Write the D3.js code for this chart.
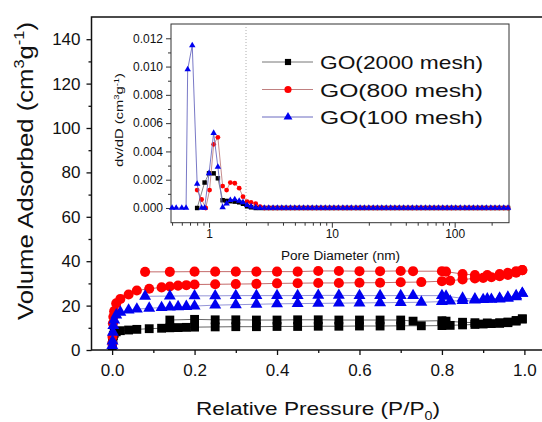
<!DOCTYPE html>
<html>
<head>
<meta charset="utf-8">
<script src="https://cdn.jsdelivr.net/npm/d3@7"></script>
<style>
  body { margin: 0; background: #fff; }
  text { font-family: "Liberation Sans", Arial, sans-serif; fill: #111; }
</style>
</head>
<body>
<svg id="chart" width="542" height="422"></svg>
<script>
// ---- isotherm data (main plot) ----
var seriesNames = ["GO(2000 mesh)", "GO(800 mesh)", "GO(100 mesh)"];

var adsP = [0.0005, 0.001, 0.002, 0.003, 0.005, 0.01, 0.02, 0.04, 0.06, 0.09, 0.12, 0.14, 0.16, 0.18, 0.2,
  0.25, 0.3, 0.35, 0.4, 0.45, 0.5, 0.55, 0.6, 0.65, 0.7, 0.75, 0.8, 0.82, 0.85, 0.88, 0.9, 0.92, 0.94, 0.96, 0.98, 0.995];
var blackAds = [2, 3.5, 5, 6.5, 7.5, 8.2, 8.7, 9, 9.3, 9.6, 9.8, 10, 10.1, 10.2, 10.3,
  10.4, 10.5, 10.5, 10.6, 10.6, 10.7, 10.7, 10.8, 10.8, 10.9, 10.9, 11, 11.1, 11.3, 11.5, 11.7, 11.9, 12, 12.3, 13, 14];
var redAds = [3, 6, 12, 15, 17.5, 21, 23, 25, 26.8, 27.6, 28.2, 28.6, 29, 29.2, 29.5,
  29.6, 29.7, 29.8, 30, 30.1, 30.2, 30.2, 30.3, 30.3, 30.5, 30.6, 31, 31.2, 31.8, 32.2, 32.5, 32.8, 33.2, 33.8, 34.8, 36];
var blueAds = [2, 4, 8, 11, 13.5, 15.8, 17, 18, 18.4, 18.8, 19.1, 19.3, 19.5, 19.6, 19.8,
  20.2, 20.4, 20.6, 20.8, 20.9, 21, 21.1, 21.2, 21.3, 21.4, 21.5, 21.8, 22, 22.3, 22.5, 22.7, 22.8, 23, 23.3, 24, 25.5];

var desP = [0.995, 0.98, 0.96, 0.94, 0.91, 0.88, 0.85, 0.81, 0.80, 0.73, 0.70, 0.65, 0.60, 0.55, 0.50,
  0.45, 0.40, 0.35, 0.30, 0.25, 0.20, 0.14, 0.08];
var blackDes = [14, 13.3, 12.6, 12.3, 12.2, 12.3, 12.5, 13, 13.2, 13, 13.5, 13.5, 13.5, 13.5, 13.6,
  13.6, 13.5, 13.5, 13.6, 13.6, 13.8, 13.5];
var redDes = [36, 35.5, 34.8, 34.2, 33.8, 33.8, 34.2, 35.3, 35.5, 35.5, 35.6, 35.5, 35.5, 35.6, 35.6,
  35.3, 35.3, 35.3, 35.3, 35.3, 35.3, 35.2, 35.2];
var blueDes = [25.5, 24.5, 23.8, 23.3, 23, 23, 23.3, 24.2, 24.5, 24.5, 24.5, 24.5, 24.5, 24.6, 24.6,
  24.5, 24.5, 24.5, 24.5, 24.4, 24.4, 24.3, 24.2];

// ---- pore size distribution (inset) ----
var pdBlackD = [0.8, 0.92, 1.0, 1.09, 1.18, 1.29, 1.39, 1.49, 1.62, 1.76, 1.89, 2.04, 2.2, 2.4];
var pdBlackV = [0, 0.0018, 0.00245, 0.00245, 0.0021, 0.00055, 0.0005, 0.00048, 0.00045, 0.0004, 0.0003, 0.00012, 0.00005, 0];
var pdRedD = [0.8, 0.87, 0.94, 1.01, 1.09, 1.18, 1.29, 1.39, 1.49, 1.62, 1.76, 1.89, 2.04, 2.2, 2.4, 2.6];
var pdRedV = [0.00127, 0.0006, 0, 0.00127, 0.0045, 0.005, 0.00155, 0.00127, 0.0018, 0.00175, 0.0014, 0.0008, 0.00045, 0.0004, 0.0003, 0.0001];
var pdBlueD = [0.5, 0.54, 0.6, 0.65, 0.67, 0.73, 0.8, 0.87, 0.92, 1.0, 1.09, 1.18, 1.29, 1.39, 1.49, 1.62, 1.76, 1.89, 2.04, 2.2, 2.4];
var pdBlueV = [0, 0, 0, 0, 0.0098, 0.0115, 0.0017, 0, 0, 0.00245, 0.0053, 0.0029, 0.00005, 0.0003, 0.00055, 0.0006, 0.0005, 0.0004, 0.0002, 0.0001, 0.00003];
// flat tail, same for all three samples
var tailD = [2.6, 2.82, 3.06, 3.32, 3.6, 3.91, 4.24, 4.6, 4.99, 5.42, 5.88, 6.38, 6.92, 7.51, 8.15, 8.84, 9.59,
  10.4, 11.3, 12.3, 13.3, 14.4, 15.7, 17.0, 18.4, 20.0, 21.7, 23.5, 25.5, 27.7, 30.1, 32.6, 35.4, 38.4, 41.7,
  45.2, 49.1, 53.2, 57.8, 62.7, 68.0, 73.8, 80.0, 86.8, 94.2, 102, 111, 121, 131, 142, 154, 167, 181, 197,
  213, 231, 251, 272];
var tailV = [0, 0, 0, 0, 0, 0, 0, 0, 0, 0, 0, 0, 0, 0, 0, 0, 0, 0, 0, 0, 0, 0, 0, 0, 0, 0, 0, 0, 0,
  0, 0, 0, 0, 0, 0, 0, 0, 0, 0, 0, 0, 0, 0, 0, 0, 0, 0, 0, 0, 0, 0, 0, 0, 0, 0, 0, 0, 0];

var yTicks = [0, 20, 40, 60, 80, 100, 120, 140];
var xTicks = [0, 0.2, 0.4, 0.6, 0.8, 1.0];
var iyTicks = [0, 0.002, 0.004, 0.006, 0.008, 0.010, 0.012];
var ixTicks = [1, 10, 100];

function zip(xs, ys) {
  var n = Math.min(xs.length, ys.length), out = [];
  for (var i = 0; i < n; i++) out.push([xs[i], ys[i]]);
  return out;
}

var styles = [
  { fill: "#000", line: "#333", lineIn: "#777", sym: d3.symbolSquare, size: 78, sizeIn: 20, sizeLeg: 38 },
  { fill: "#f00", line: "#b03a3a", lineIn: "#c08080", sym: d3.symbolCircle, size: 80, sizeIn: 18, sizeLeg: 40 },
  { fill: "#0000f0", line: "#7070c8", lineIn: "#6a6ac0", sym: d3.symbolTriangle, size: 62, sizeIn: 18, sizeLeg: 34 }
];

var main = [
  { ads: zip(adsP, blackAds), des: zip(desP, blackDes) },
  { ads: zip(adsP, redAds), des: zip(desP, redDes) },
  { ads: zip(adsP, blueAds), des: zip(desP, blueDes) }
];
var inset = [
  zip(pdBlackD, pdBlackV).concat(zip(tailD, tailV)),
  zip(pdRedD, pdRedV).concat(zip(tailD.slice(1), tailV)),
  zip(pdBlueD, pdBlueV).concat(zip(tailD, tailV))
];

var svg = d3.select("#chart");

// ---- main scales ----
var x = d3.scaleLinear().domain([-0.05, 1.05]).range([91.5, 545]),
  y = d3.scaleLinear().domain([0, 150]).range([350, 17]);

var g = svg.append("g");

g.append("rect")
  .attr("x", x(-0.05)).attr("y", y(150))
  .attr("width", x(1.05) - x(-0.05)).attr("height", y(0) - y(150))
  .attr("fill", "none").attr("stroke", "#111").attr("stroke-width", 1.5);

var xAxis = g.append("g")
  .attr("transform", "translate(0," + y(0) + ")")
  .call(d3.axisBottom(x).tickValues(xTicks).tickFormat(d3.format(".1f")).tickSize(5).tickPadding(9));
g.append("g")
  .attr("transform", "translate(0," + y(0) + ")")
  .call(d3.axisBottom(x).tickValues([0.1, 0.3, 0.5, 0.7, 0.9]).tickFormat("").tickSize(3));
var yAxis = g.append("g")
  .attr("transform", "translate(" + x(-0.05) + ",0)")
  .call(d3.axisLeft(y).tickValues(yTicks).tickSize(5).tickPadding(6));
g.append("g")
  .attr("transform", "translate(" + x(-0.05) + ",0)")
  .call(d3.axisLeft(y).tickValues([10, 30, 50, 70, 90, 110, 130]).tickFormat("").tickSize(3));

g.selectAll(".domain").remove();
g.selectAll(".tick line").attr("stroke", "#111").attr("stroke-width", 1.3);
g.selectAll(".tick text").attr("font-size", 17).attr("fill", "#111")
  .style("font-family", "'Liberation Sans', Arial, sans-serif");

// titles
var xt = svg.append("text")
  .attr("x", 318).attr("y", 415).attr("text-anchor", "middle")
  .attr("font-size", 19)
  .attr("textLength", 244).attr("lengthAdjust", "spacingAndGlyphs");
xt.append("tspan").text("Relative Pressure (P/P");
xt.append("tspan").attr("font-size", 12).attr("dy", 5).text("0");
xt.append("tspan").attr("dy", -5).text(")");

var yt = svg.append("text")
  .attr("transform", "translate(33,171) rotate(-90)")
  .attr("text-anchor", "middle").attr("font-size", 22)
  .attr("textLength", 298).attr("lengthAdjust", "spacingAndGlyphs");
yt.append("tspan").text("Volume Adsorbed (cm");
yt.append("tspan").attr("font-size", 14).attr("dy", -9).text("3");
yt.append("tspan").attr("dy", 9).text("g");
yt.append("tspan").attr("font-size", 14).attr("dy", -9).text("-1");
yt.append("tspan").attr("dy", 9).text(")");

// ---- main series ----
var lineMain = d3.line().x(function(d) { return x(d[0]); }).y(function(d) { return y(d[1]); });

main.forEach(function(s, i) {
  var st = styles[i];
  var sg = g.append("g");
  [s.ads, s.des].forEach(function(branch) {
    sg.append("path").datum(branch)
      .attr("d", lineMain).attr("fill", "none")
      .attr("stroke", st.line).attr("stroke-width", 1).attr("stroke-opacity", 0.75);
  });
  sg.selectAll(".pt")
    .data(s.ads.concat(s.des))
    .enter().append("path")
    .attr("transform", function(d) { return "translate(" + x(d[0]) + "," + y(d[1]) + ")"; })
    .attr("d", d3.symbol().type(st.sym).size(st.size))
    .attr("fill", st.fill);
});

// ---- inset ----
var ix = d3.scaleLog().domain([0.49, 277]).range([171, 509]),
  iy = d3.scaleLinear().domain([-0.00104, 0.01301]).range([222.7, 24]);

var ig = svg.append("g");
ig.append("rect")
  .attr("x", 171).attr("y", 24).attr("width", 509 - 171).attr("height", 222.7 - 24)
  .attr("fill", "#fff").attr("stroke", "#333").attr("stroke-width", 1);

ig.append("line")
  .attr("x1", ix(2)).attr("x2", ix(2)).attr("y1", 24).attr("y2", 222.7)
  .attr("stroke", "#999").attr("stroke-width", 0.8).attr("stroke-dasharray", "1,2");

var minorD = ix.ticks().filter(function(d) { return ixTicks.indexOf(d) < 0; });
ig.append("g").attr("transform", "translate(0,222.7)")
  .call(d3.axisBottom(ix).tickValues(ixTicks).tickFormat(d3.format("d")).tickSize(5).tickPadding(2));
ig.append("g").attr("transform", "translate(0,222.7)")
  .call(d3.axisBottom(ix).tickValues(minorD).tickFormat("").tickSize(3));
ig.append("g").attr("transform", "translate(171,0)")
  .call(d3.axisLeft(iy).tickValues(iyTicks).tickFormat(d3.format(".3f")).tickSize(5).tickPadding(3));
ig.append("g").attr("transform", "translate(171,0)")
  .call(d3.axisLeft(iy).tickValues([0.001, 0.003, 0.005, 0.007, 0.009, 0.011]).tickFormat("").tickSize(3));
ig.selectAll(".domain").remove();
ig.selectAll(".tick line").attr("stroke", "#333");
ig.selectAll(".tick text").attr("font-size", 12).attr("fill", "#111")
  .style("font-family", "'Liberation Sans', Arial, sans-serif");

ig.append("text")
  .attr("x", 340.5).attr("y", 260).attr("text-anchor", "middle").attr("font-size", 12)
  .attr("textLength", 119).attr("lengthAdjust", "spacingAndGlyphs")
  .text("Pore Diameter (nm)");

var iyt = ig.append("text")
  .attr("transform", "translate(123,120) rotate(-90)")
  .attr("text-anchor", "middle").attr("font-size", 11)
  .attr("textLength", 94).attr("lengthAdjust", "spacingAndGlyphs");
iyt.append("tspan").text("dv/dD (cm");
iyt.append("tspan").attr("font-size", 7).attr("dy", -4).text("3");
iyt.append("tspan").attr("dy", 4).text("g");
iyt.append("tspan").attr("font-size", 7).attr("dy", -4).text("-1");
iyt.append("tspan").attr("dy", 4).text(")");

var lineIn = d3.line().x(function(d) { return ix(d[0]); }).y(function(d) { return iy(d[1]); });
inset.forEach(function(s, i) {
  var st = styles[i];
  ig.append("path").datum(s)
    .attr("d", lineIn).attr("fill", "none")
    .attr("stroke", st.lineIn).attr("stroke-width", 0.9);
  ig.append("g").selectAll("path")
    .data(s).enter().append("path")
    .attr("transform", function(d) { return "translate(" + ix(d[0]) + "," + iy(d[1]) + ")"; })
    .attr("d", d3.symbol().type(st.sym).size(st.sizeIn))
    .attr("fill", st.fill);
});

// ---- legend ----
var leg = ig.append("g").attr("transform", "translate(262,62)");
seriesNames.forEach(function(name, i) {
  var st = styles[i];
  var row = leg.append("g").attr("transform", "translate(0," + (i * 27.5) + ")");
  row.append("line").attr("x1", 0).attr("x2", 51).attr("y1", 0).attr("y2", 0)
    .attr("stroke", st.lineIn).attr("stroke-width", 1);
  row.append("path").attr("transform", "translate(26,0)")
    .attr("d", d3.symbol().type(st.sym).size(st.sizeLeg)).attr("fill", st.fill);
  row.append("text").attr("x", 58).attr("y", 7).attr("font-size", 19)
    .attr("textLength", 163).attr("lengthAdjust", "spacingAndGlyphs")
    .text(name);
});
</script>
</body>
</html>
